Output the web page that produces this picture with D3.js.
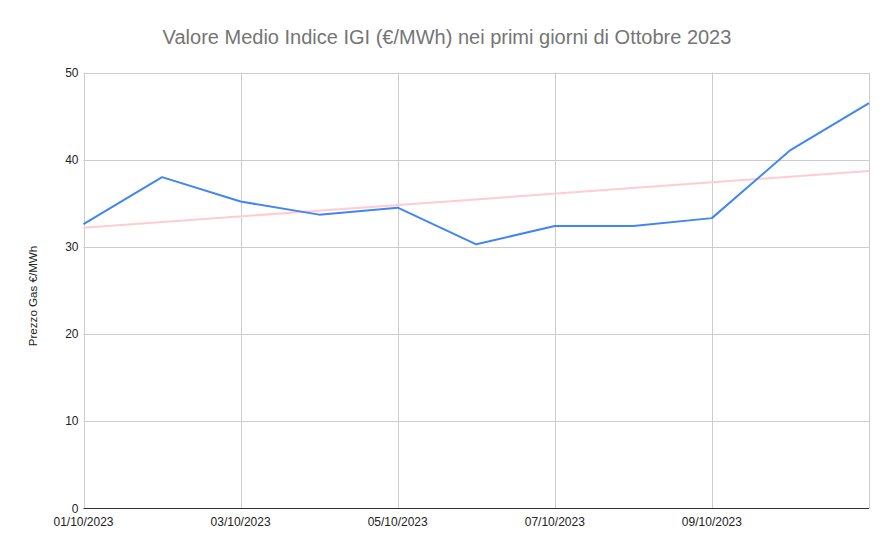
<!DOCTYPE html>
<html><head><meta charset="utf-8">
<script src="https://cdn.jsdelivr.net/npm/d3@7"></script>
<style>body{margin:0;background:#fff}svg{display:block}</style>
</head><body>
<svg id="c" width="894" height="554"></svg>
<script>
const dates = ["01/10/2023","02/10/2023","03/10/2023","04/10/2023","05/10/2023","06/10/2023","07/10/2023","08/10/2023","09/10/2023","10/10/2023","11/10/2023"];
const prices = [32.6, 38.0, 35.2, 33.7, 34.5, 30.3, 32.4, 32.4, 33.3, 41.1, 46.5];
const yTicks = [0,10,20,30,40,50];
const xTickLabels = ["01/10/2023","03/10/2023","05/10/2023","07/10/2023","09/10/2023"];

const svg = d3.select("#c");
const m = {l:83.5, r:869, t:72.5, b:508.5};
const x = d3.scalePoint().domain(dates).range([m.l, m.r]);
const y = d3.scaleLinear().domain([0,50]).range([m.b, m.t]);
const font = "Liberation Sans, Arial, sans-serif";

// title
svg.append("text").attr("x",447).attr("y",44).attr("text-anchor","middle")
  .attr("font-family",font).attr("font-size",20).attr("fill","#757575")
  .text("Valore Medio Indice IGI (€/MWh) nei primi giorni di Ottobre 2023");

// horizontal grid
svg.append("g").selectAll("line").data(yTicks.filter(d=>d>0)).join("line")
  .attr("x1",m.l).attr("x2",m.r).attr("y1",d=>Math.round(y(d))+0.5).attr("y2",d=>Math.round(y(d))+0.5)
  .attr("stroke","#cccccc");
// vertical grid
const vGrid = dates.filter((d,i)=>i%2===0);
svg.append("g").selectAll("line").data(vGrid).join("line")
  .attr("x1",d=>Math.round(x(d))+0.5).attr("x2",d=>Math.round(x(d))+0.5).attr("y1",m.t).attr("y2",m.b)
  .attr("stroke","#cccccc");

// y tick labels
svg.append("g").selectAll("text").data(yTicks).join("text")
  .attr("x",m.l-5).attr("y",d=>y(d)+4).attr("text-anchor","end")
  .attr("font-family",font).attr("font-size",12).attr("fill","#222")
  .text(d=>d);
// x tick labels
svg.append("g").selectAll("text").data(xTickLabels).join("text")
  .attr("x",d=>x(d)).attr("y",m.b+17).attr("text-anchor","middle")
  .attr("font-family",font).attr("font-size",12).attr("fill","#222")
  .text(d=>d);

// y-axis title
svg.append("text").attr("transform",`translate(37,296) rotate(-90)`)
  .attr("text-anchor","middle").attr("font-family",font).attr("font-size",11.6).attr("fill","#222")
  .text("Prezzo Gas €/MWh");

// trendline (least squares)
const n = prices.length;
const idx = d3.range(n);
const mx = d3.mean(idx), my = d3.mean(prices);
const slope = d3.sum(idx, i=>(i-mx)*(prices[i]-my)) / d3.sum(idx, i=>(i-mx)*(i-mx));
const icpt = my - slope*mx;
svg.append("line")
  .attr("x1",x(dates[0])).attr("y1",y(icpt))
  .attr("x2",x(dates[n-1])).attr("y2",y(icpt+slope*(n-1)))
  .attr("stroke","#ffcdd0").attr("stroke-width",2);

// data line
svg.append("path").datum(prices)
  .attr("d", d3.line().x((d,i)=>x(dates[i])).y(d=>y(d)))
  .attr("fill","none").attr("stroke","#4285f4").attr("stroke-width",2).attr("stroke-linejoin","round");

// bottom axis line
svg.append("line").attr("x1",m.l).attr("x2",m.r).attr("y1",m.b).attr("y2",m.b)
  .attr("stroke","#333").attr("stroke-width",1);
</script>
</body></html>
